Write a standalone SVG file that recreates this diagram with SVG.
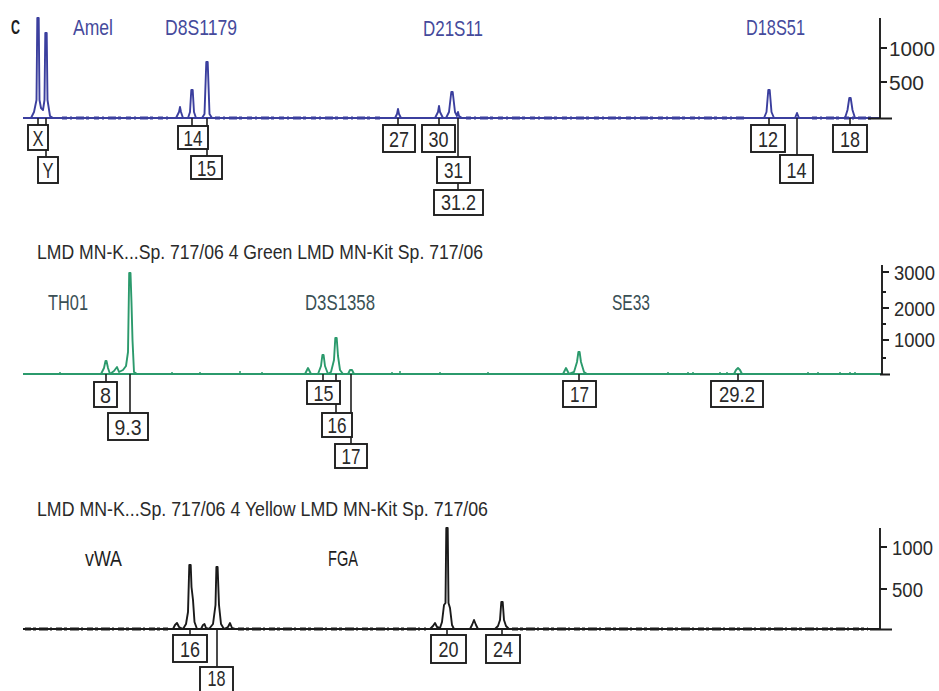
<svg xmlns="http://www.w3.org/2000/svg" width="939" height="691" viewBox="0 0 939 691">
<style>
.f{font-family:"Liberation Sans",Arial,sans-serif}
.loc{font-size:22px}
.blue{fill:#454a9c}
.gl{fill:#3a5055}
.dk{fill:#1e1e1e}
.title{font-size:20px;fill:#2a2a2a}
.ax{font-size:20px;fill:#2a2a2a}
.box rect{fill:#fff;stroke:#1e1e1e;stroke-width:1.9}
.box text{font-size:22px;fill:#2a2a2a;text-anchor:middle}
.con{stroke:#1e1e1e;stroke-width:1.6;fill:none}
.tr{fill:none;stroke-linejoin:round;stroke-width:1.9}
.axis{stroke:#1e1e1e;stroke-width:1.9;fill:none}
</style>
<rect width="939" height="691" fill="#fff"/>

<!-- Panel 1 (blue) -->
<g id="panel-blue">
  <text class="f dk" x="11" y="34" font-size="21" font-weight="bold" textLength="9" lengthAdjust="spacingAndGlyphs">C</text>
  <text class="f loc blue" x="73" y="35" textLength="40" lengthAdjust="spacingAndGlyphs">Amel</text>
  <text class="f loc blue" x="165" y="35" textLength="72" lengthAdjust="spacingAndGlyphs">D8S1179</text>
  <text class="f loc blue" x="423" y="36" textLength="60" lengthAdjust="spacingAndGlyphs">D21S11</text>
  <text class="f loc blue" x="746" y="35" textLength="59" lengthAdjust="spacingAndGlyphs">D18S51</text>
  <path class="tr" stroke="#3b3f9e" d="M23,118 H880"/>
  <path fill="none" stroke="#3b3f9e" stroke-width="3" stroke-dasharray="5 3 2 4 8 2 3 5" d="M62,118 H170 M215,118 H380 M466,118 H745 M812,118 H876"/>
  <path class="tr" stroke="#3b3f9e" d="M31,118 L34,112 L36.5,100 L37.3,18 L38.7,18 L39.5,100 L41,108 L43,110 L44.5,100 L45.3,33 L46.7,33 L47.5,100 L50,116 L53,118 M176,118 L179,112 L180,107 L181,112 L183,118 M188,118 L190,112 L191.3,90 L192.7,90 L194,112 L196,118 M202,118 L204.5,114 L206.3,62 L207.7,62 L209.5,114 L212,118 M395,118 L397,114 L398,109 L399,114 L401,118 M435,118 L438,112 L439,106 L440,112 L443,118 L446,118 L449,112 L451.3,92 L452.7,92 L455,112 L457,116 L458,112 L459,116 L462,118 M764,118 L766.5,112 L768.3,90 L769.7,90 L771.5,112 L774,118 M795,118 L797,113 L799,118 M845,118 L847.5,110 L849.3,98 L850.7,98 L852.5,110 L855,118"/>
  <path class="axis" d="M880,18 V119 M868,118.5 H892 M880,48 H887 M880,82 H887"/>
  <text class="f ax" x="889" y="56" textLength="46" lengthAdjust="spacingAndGlyphs">1000</text>
  <text class="f ax" x="889" y="90" textLength="35" lengthAdjust="spacingAndGlyphs">500</text>
</g>

<!-- Panel 2 (green) -->
<g id="panel-green">
  <text class="f title" x="37" y="259" textLength="446" lengthAdjust="spacingAndGlyphs">LMD MN-K...Sp. 717/06 4 Green LMD MN-Kit Sp. 717/06</text>
  <text class="f loc gl" x="48" y="310" textLength="40" lengthAdjust="spacingAndGlyphs">TH01</text>
  <text class="f loc gl" x="305" y="310" textLength="70" lengthAdjust="spacingAndGlyphs">D3S1358</text>
  <text class="f loc gl" x="612" y="310" textLength="38" lengthAdjust="spacingAndGlyphs">SE33</text>
  <path class="tr" stroke="#2b9a6c" stroke-width="2.2" d="M23,374 H882"/>
  <path fill="none" stroke="#2b9a6c" stroke-width="1.5" d="M60,374 v-2 M172,374 v-2 M200,374 v-2 M240,374 v-3 M262,374 v-2 M392,374 v-2 M400,374 v-3 M440,374 v-2 M488,374 v-2 M668,374 v-2 M688,374 v-2 M693,374 v-2 M720,374 v-2 M727,374 v-2 M808,374 v-2 M818,374 v-2 M840,374 v-2 M850,374 v-2 M855,374 v-2"/>
  <path class="tr" stroke="#2b9a6c" d="M101,374 L104,368 L105.5,361 L106.5,361 L108,368 L110,374 L114,371 L117,367 L119,372 L123,370 L126,366 L128,352 L129.2,273 L130.5,273 L131.5,303 L132.5,340 L134,372 L137,374 M305,374 L307,370 L308,368 L309,370 L311,374 L318,374 L321,366 L322.4,355 L323.6,355 L325,366 L328,374 L331,372 L334,360 L335.3,338 L336.7,338 L338,356 L340,370 L343,374 L348,374 L350,370 L352,370 L354,374 M563,374 L565,370 L566,368 L567,370 L569,374 L574,372 L577,362 L578.4,352 L579.6,352 L581,362 L584,372 L587,374 M734,374 L736,370 L738,368 L740,370 L742,374"/>
  <path class="axis" d="M882,265 V375 M880,374.5 H890 M882,272 H889 M882,308 H889 M882,340 H889 M882,292 H886 M882,324 H886 M882,358 H886"/>
  <text class="f ax" x="894" y="280" textLength="41" lengthAdjust="spacingAndGlyphs">3000</text>
  <text class="f ax" x="894" y="316" textLength="41" lengthAdjust="spacingAndGlyphs">2000</text>
  <text class="f ax" x="894" y="347" textLength="41" lengthAdjust="spacingAndGlyphs">1000</text>
</g>

<!-- Panel 3 (black) -->
<g id="panel-black">
  <text class="f title" x="37" y="516" textLength="451" lengthAdjust="spacingAndGlyphs">LMD MN-K...Sp. 717/06 4 Yellow LMD MN-Kit Sp. 717/06</text>
  <text class="f loc dk" x="85" y="566" textLength="37" lengthAdjust="spacingAndGlyphs">vWA</text>
  <text class="f loc dk" x="328" y="566" textLength="30" lengthAdjust="spacingAndGlyphs">FGA</text>
  <path class="tr" stroke="#1a1a1a" d="M23,629 H880"/>
  <path fill="none" stroke="#1a1a1a" stroke-width="3" stroke-dasharray="6 2 3 3 9 2 2 4" d="M25,629 H168 M238,629 H426 M512,629 H868"/>
  <path class="tr" stroke="#1a1a1a" d="M173,629 L175,625 L177,623 L179,627 L183,629 L186,624 L188,612 L189.3,565 L190.7,565 L191.5,587 L193,600 L194.5,622 L197,629 L201,629 L203,625 L204.5,624 L206,628 L209,629 L213,624 L215.5,605 L216.4,567 L217.6,567 L219,605 L221,624 L224,629 L228,627 L230,623 L232,628 L235,629 M430,629 L433,626 L435,623 L437,627 L440,628 L442,622 L444,605 L445.5,603 L446.3,528 L447.7,528 L448.5,603 L450,608 L452,625 L454,629 M470,629 L472,625 L474,620 L476,625 L478,629 M495,629 L498,626 L500,620 L501.3,602 L502.7,602 L504,620 L506,626 L509,629"/>
  <path class="axis" d="M880,528 V630 M870,629.5 H892 M880,547 H887 M880,589 H887"/>
  <text class="f ax" x="892" y="555" textLength="41" lengthAdjust="spacingAndGlyphs">1000</text>
  <text class="f ax" x="892" y="597" textLength="31" lengthAdjust="spacingAndGlyphs">500</text>
</g>

<!-- Connectors -->
<g id="connectors">
  <path class="con" d="M38,118 V125 M46,118 V125 M46,150 V157 M192,118 V126 M207,118 V126 M207,149 V156 M398,118 V125 M439,118 V125 M458,118 V157 M458,183 V190 M769,118 V125 M797,118 V155 M850,118 V125"/>
  <path class="con" d="M106,374 V382 M130,374 V413 M323,374 V381 M336,374 V381 M336,404 V413 M351,374 V444 M579,374 V381 M738,374 V381"/>
  <path class="con" d="M190,629 V635 M217,629 V668 M447,629 V635 M502,629 V635"/>
</g>

<!-- Allele labels -->
<g id="a-X" class="box f"><rect x="28" y="125" width="20" height="25"/><text x="38" y="146" textLength="11" lengthAdjust="spacingAndGlyphs">X</text></g>
<g id="a-Y" class="box f"><rect x="38" y="157" width="20" height="26"/><text x="48" y="178" textLength="11" lengthAdjust="spacingAndGlyphs">Y</text></g>
<g id="a-D8-14" class="box f"><rect x="178" y="126" width="30" height="23"/><text x="193" y="146" textLength="19" lengthAdjust="spacingAndGlyphs">14</text></g>
<g id="a-D8-15" class="box f"><rect x="191" y="156" width="31" height="23"/><text x="206.5" y="176" textLength="19" lengthAdjust="spacingAndGlyphs">15</text></g>
<g id="a-D21-27" class="box f"><rect x="383" y="125" width="32" height="27"/><text x="399" y="147" textLength="20" lengthAdjust="spacingAndGlyphs">27</text></g>
<g id="a-D21-30" class="box f"><rect x="422" y="125" width="33" height="27"/><text x="438.5" y="147" textLength="20" lengthAdjust="spacingAndGlyphs">30</text></g>
<g id="a-D21-31" class="box f"><rect x="437" y="157" width="33" height="26"/><text x="453.5" y="178" textLength="19" lengthAdjust="spacingAndGlyphs">31</text></g>
<g id="a-D21-31-2" class="box f"><rect x="434" y="190" width="49" height="25"/><text x="458.5" y="210" textLength="35" lengthAdjust="spacingAndGlyphs">31.2</text></g>
<g id="a-D18-12" class="box f"><rect x="751" y="125" width="34" height="27"/><text x="768" y="147" textLength="20" lengthAdjust="spacingAndGlyphs">12</text></g>
<g id="a-D18-14" class="box f"><rect x="780" y="155" width="33" height="28"/><text x="796.5" y="178" textLength="20" lengthAdjust="spacingAndGlyphs">14</text></g>
<g id="a-D18-18" class="box f"><rect x="833" y="125" width="34" height="27"/><text x="850" y="147" textLength="20" lengthAdjust="spacingAndGlyphs">18</text></g>

<g id="a-TH-8" class="box f"><rect x="94" y="382" width="23" height="25"/><text x="105.5" y="403" textLength="11" lengthAdjust="spacingAndGlyphs">8</text></g>
<g id="a-TH-9-3" class="box f"><rect x="108" y="413" width="40" height="27"/><text x="128" y="435" textLength="27" lengthAdjust="spacingAndGlyphs">9.3</text></g>
<g id="a-D3-15" class="box f"><rect x="307" y="381" width="33" height="23"/><text x="323.5" y="401" textLength="20" lengthAdjust="spacingAndGlyphs">15</text></g>
<g id="a-D3-16" class="box f"><rect x="322" y="413" width="30" height="24"/><text x="337" y="433" textLength="19" lengthAdjust="spacingAndGlyphs">16</text></g>
<g id="a-D3-17" class="box f"><rect x="335" y="444" width="32" height="24"/><text x="351" y="464" textLength="19" lengthAdjust="spacingAndGlyphs">17</text></g>
<g id="a-SE-17" class="box f"><rect x="563" y="381" width="33" height="26"/><text x="579.5" y="402" textLength="19" lengthAdjust="spacingAndGlyphs">17</text></g>
<g id="a-SE-29-2" class="box f"><rect x="711" y="381" width="52" height="26"/><text x="737" y="402" textLength="36" lengthAdjust="spacingAndGlyphs">29.2</text></g>

<g id="a-vWA-16" class="box f"><rect x="173" y="635" width="34" height="27"/><text x="190" y="657" textLength="20" lengthAdjust="spacingAndGlyphs">16</text></g>
<g id="a-vWA-18" class="box f"><rect x="200" y="667" width="33" height="30"/><text x="216.5" y="686" font-size="17" textLength="18" lengthAdjust="spacingAndGlyphs">18</text></g>
<g id="a-FGA-20" class="box f"><rect x="431" y="635" width="35" height="28"/><text x="448.5" y="657" textLength="20" lengthAdjust="spacingAndGlyphs">20</text></g>
<g id="a-FGA-24" class="box f"><rect x="486" y="635" width="34" height="28"/><text x="503" y="657" textLength="20" lengthAdjust="spacingAndGlyphs">24</text></g>
</svg>
